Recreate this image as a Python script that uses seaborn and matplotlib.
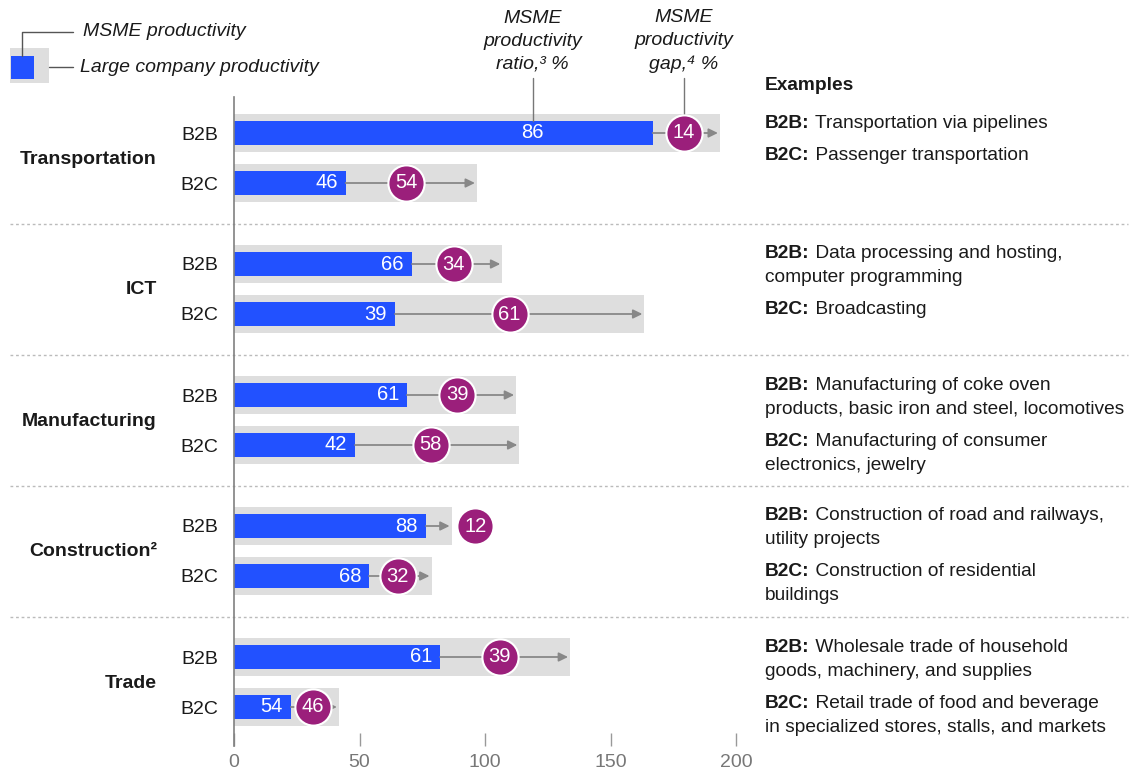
import numpy as np
import pandas as pd
import matplotlib
matplotlib.use("Agg")
import matplotlib.pyplot as plt
import matplotlib.transforms as mtransforms
from matplotlib.lines import Line2D
from matplotlib.patches import Rectangle
import seaborn as sns

# --- data ---
sectors = ["Transportation", "ICT", "Manufacturing", "Construction²", "Trade"]
segments = ["B2B", "B2C"]
large_productivity = [193.6, 96.8, 106.9, 163.5, 112.4, 113.7, 86.7, 78.7, 133.9, 41.8]
msme_productivity = [166.8, 44.5, 70.9, 64.1, 68.9, 48.2, 76.5, 53.8, 82.1, 22.7]
ratio_labels = [86, 46, 66, 39, 61, 42, 88, 68, 61, 54]
gap_labels = [14, 54, 34, 61, 39, 58, 12, 32, 39, 46]
examples_b2b = [
    "Transportation via pipelines",
    "Data processing and hosting,\ncomputer programming",
    "Manufacturing of coke oven\nproducts, basic iron and steel, locomotives",
    "Construction of road and railways,\nutility projects",
    "Wholesale trade of household\ngoods, machinery, and supplies",
]
examples_b2c = [
    "Passenger transportation",
    "Broadcasting",
    "Manufacturing of consumer\nelectronics, jewelry",
    "Construction of residential\nbuildings",
    "Retail trade of food and beverage\nin specialized stores, stalls, and markets",
]
x_ticks = [0, 50, 100, 150, 200]

BLUE = "#2251FF"
GREY = "#DEDEDE"
PURPLE = "#9B1F7B"
ARROW = "#888888"
TEXT = "#1A1A1A"
W, H = 1138, 772
FS = 14

sns.set_theme(style="white")
plt.rcParams["font.family"] = ["Liberation Sans", "DejaVu Sans"]

# rows on a pixel-like scale: 50 apart inside a sector, sectors 131 apart
ypos = [133 + 131 * g + 50 * k for g in range(len(sectors)) for k in range(len(segments))]
df = pd.DataFrame({
    "sector": np.repeat(sectors, len(segments)),
    "segment": segments * len(sectors),
    "y": ypos,
    "large": large_productivity,
    "msme": msme_productivity,
    "ratio": ratio_labels,
    "gap": gap_labels,
})
span = df["large"] - df["msme"]
df["cx"] = np.where(span < 15, df["large"] + 9.5, df["msme"] + 0.46 * span)

fig = plt.figure(figsize=(W / 100, H / 100), dpi=100)
ax = fig.add_axes([234 / W, 1 - 746 / H, 502 / W, (746 - 97) / H])
px = mtransforms.Affine2D().scale(1 / W, -1 / H).translate(0, 1) + fig.transFigure
row_tr = mtransforms.blended_transform_factory(px, ax.transData)

sns.barplot(data=df, x="large", y="y", orient="y", native_scale=True, color=GREY,
            saturation=1, width=0.76, errorbar=None, linewidth=0, ax=ax)
sns.barplot(data=df, x="msme", y="y", orient="y", native_scale=True, color=BLUE,
            saturation=1, width=0.47, errorbar=None, linewidth=0, ax=ax)

for _, r in df.iterrows():
    ax.annotate("", xy=(r["large"] - 0.8, r["y"]), xytext=(r["msme"], r["y"]),
                arrowprops=dict(arrowstyle="-|>,head_length=0.45,head_width=0.22",
                                color=ARROW, lw=1.3, shrinkA=0, shrinkB=0,
                                mutation_scale=12),
                zorder=3, annotation_clip=False)

sns.scatterplot(data=df, x="cx", y="y", s=680, color=PURPLE, edgecolor="white",
                linewidth=1.5, zorder=4, clip_on=False, legend=False, ax=ax)

ratio_header_x = 119
for i, r in df.iterrows():
    if i == 0:
        ax.text(ratio_header_x, r["y"], str(r["ratio"]), ha="center", va="center",
                color="white", fontsize=FS + 0.5, zorder=5)
    else:
        ax.text(r["msme"] - 3.2, r["y"], str(r["ratio"]), ha="right", va="center",
                color="white", fontsize=FS + 0.5, zorder=5)
    ax.text(r["cx"], r["y"], str(r["gap"]), ha="center", va="center",
            color="white", fontsize=FS + 0.5, zorder=5)

# axes styling
ax.set_xlim(0, 200)
ax.set_ylim(746, 97)
ax.set_xticks(x_ticks)
ax.set_yticks(ypos)
ax.set_yticklabels(df["segment"])
ax.set_xlabel("")
ax.set_ylabel("")
for s in ["top", "right", "bottom"]:
    ax.spines[s].set_visible(False)
ax.spines["left"].set_color("#808080")
ax.spines["left"].set_linewidth(1.2)
ax.tick_params(axis="x", direction="in", length=9.5, width=1, color="#999999",
               pad=5.5, labelsize=FS, labelcolor="#777777", bottom=True)
ax.tick_params(axis="y", length=0, pad=11.5, labelsize=FS, labelcolor=TEXT)

# sector labels and separators
for g, name in enumerate(sectors):
    yc = (ypos[2 * g] + ypos[2 * g + 1]) / 2
    ax.text(157, yc + 1, name, transform=row_tr, ha="right", va="center",
            fontsize=FS, fontweight="bold", color=TEXT)
    if g < len(sectors) - 1:
        ysep = (ypos[2 * g + 1] + ypos[2 * g + 2]) / 2
        ax.add_line(Line2D([10, 1128], [ysep, ysep], transform=row_tr, color="#BBBBBB",
                           lw=1, linestyle=(0, (2, 2)), clip_on=False))

# column headers with leader lines
ax.text(ratio_header_x, 41, "MSME\nproductivity\nratio,³ %", ha="center", va="center",
        fontsize=FS, style="italic", color=TEXT, linespacing=1.44)
ax.plot([ratio_header_x, ratio_header_x], [78, ypos[0] - 12], color="#777777", lw=1, clip_on=False)
ax.text(df["cx"][0], 41, "MSME\nproductivity\ngap,⁴ %", ha="center", va="center",
        fontsize=FS, style="italic", color=TEXT, linespacing=1.44)
ax.plot([df["cx"][0], df["cx"][0]], [78, ypos[0] - 17], color="#777777", lw=1, clip_on=False)

# legend
fig.add_artist(Rectangle((10, 48), 39, 35, transform=px, color=GREY, lw=0))
fig.add_artist(Rectangle((11, 56), 23, 23, transform=px, color=BLUE, lw=0))
fig.add_artist(Line2D([22, 22, 73], [56, 32, 32], transform=px, color="#555555", lw=1))
fig.add_artist(Line2D([49, 73], [67, 67], transform=px, color="#555555", lw=1))
fig.text(83, 32, "MSME productivity", transform=px, va="center", fontsize=FS,
         style="italic", color=TEXT)
fig.text(80, 67, "Large company productivity", transform=px, va="center", fontsize=FS,
         style="italic", color=TEXT)

# examples column
renderer = fig.canvas.get_renderer()
LINE = 24
EX_FS = 13.8


def example_entry(x, y, prefix, body):
    lines = body.split("\n")
    t = ax.text(x, y, prefix + ":", transform=row_tr, va="center", fontsize=EX_FS,
                fontweight="bold", color=TEXT)
    w = t.get_window_extent(renderer).width
    ax.text(x + w, y, " " + lines[0], transform=row_tr, va="center", fontsize=EX_FS, color=TEXT)
    for i, line in enumerate(lines[1:], 1):
        ax.text(x, y + LINE * i, line, transform=row_tr, va="center", fontsize=EX_FS, color=TEXT)
    return y + LINE * len(lines)


fig.text(765, 85, "Examples", transform=px, va="center", fontsize=EX_FS,
         fontweight="bold", color=TEXT)
for g in range(len(sectors)):
    y0 = ypos[2 * g] - 10
    y1 = example_entry(765, y0, "B2B", examples_b2b[g])
    example_entry(765, y1 + 8, "B2C", examples_b2c[g])

fig.savefig("out.png", dpi=100)
